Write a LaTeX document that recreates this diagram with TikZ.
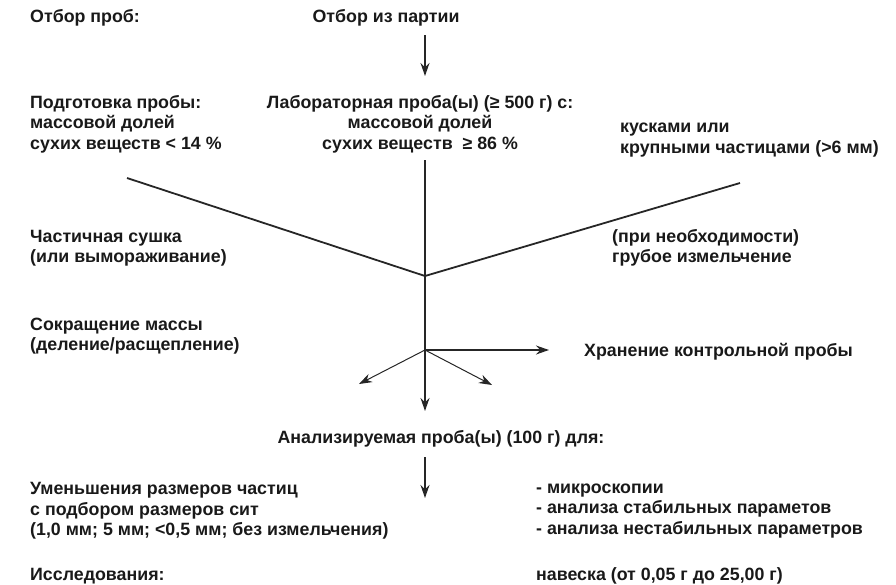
\documentclass[tikz,border=0pt]{standalone}
\usepackage{fontspec}
\setmainfont{Liberation Sans}
\usetikzlibrary{arrows.meta}
\begin{document}
\begin{tikzpicture}[x=1pt,y=-1pt,
  txt/.style={inner sep=0pt, font=\fontsize{17.8}{20.5}\selectfont\bfseries, align=left, anchor=west, text=black!90},
  ctxt/.style={txt, align=center, anchor=center},
  ln/.style={line width=1.3pt, draw=black!85},
  arr/.style={ln, -{Stealth[length=13pt,width=9pt]}}]
\useasboundingbox (0,0) rectangle (896,584);
% texts
\node[txt] (t1) at (30,18) {Отбор проб:};
\node[ctxt] (src) at (386,18) {Отбор из партии};
\node[txt] (prep) at (30,124) {Подготовка пробы:\\массовой долей\\сухих веществ < 14 \%};
\node[ctxt] (lab) at (420,124) {Лабораторная проба(ы) (≥ 500 г) с:\\массовой долей\\сухих веществ \ ≥ 86 \%};
\node[txt] (lump) at (620,140) {кусками или\\крупными частицами (>6 мм)};
\node[txt] (dry) at (30,248) {Частичная сушка\\(или вымораживание)};
\node[txt] (grind) at (612,248) {(при необходимости)\\грубое измельчение};
\node[txt] (red) at (30,336) {Сокращение массы\\(деление/расщепление)};
\node[txt] (store) at (584,352) {Хранение контрольной пробы};
\node[ctxt] (ana) at (441,439) {Анализируемая проба(ы) (100 г) для:};
\node[txt] (size) at (30,511) {Уменьшения размеров частиц\\с подбором размеров сит\\(1,0 мм; 5 мм; <0,5 мм; без измельчения)};
\node[txt] (list) at (536,511) {- микроскопии\\- анализа стабильных параметов\\- анализа нестабильных параметров};
\node[txt] (inv) at (30,576) {Исследования:};
\node[txt] (wt) at (536,576) {навеска (от 0,05 г до 25,00 г)};
% coordinates
\coordinate (a1s) at (425,35);
\coordinate (a1e) at (425,76);
\coordinate (vtop) at (425,160);
\coordinate (j1) at (425,276);
\coordinate (j2) at (425,350);
\coordinate (lstart) at (127,178);
\coordinate (rstart) at (740,183);
\coordinate (tr) at (549,350);
\coordinate (tl) at (359,384);
\coordinate (tdr) at (492,385);
\coordinate (td) at (425,411);
\coordinate (a2s) at (425,457);
\coordinate (a2e) at (425,498);
% connectors
\draw[arr] (a1s) -- (a1e);
\draw[ln] (vtop) -- (j1) -- (j2);
\draw[ln, line width=1.8pt] (lstart) -- (j1);
\draw[ln, line width=1.8pt] (rstart) -- (j1);
\draw[arr] (j2) -- (tr);
\draw[arr] (j2) -- (td);
\draw[arr, line width=1pt] (j2) -- (tl);
\draw[arr, line width=1pt] (j2) -- (tdr);
\draw[arr] (a2s) -- (a2e);
\end{tikzpicture}
\end{document}
